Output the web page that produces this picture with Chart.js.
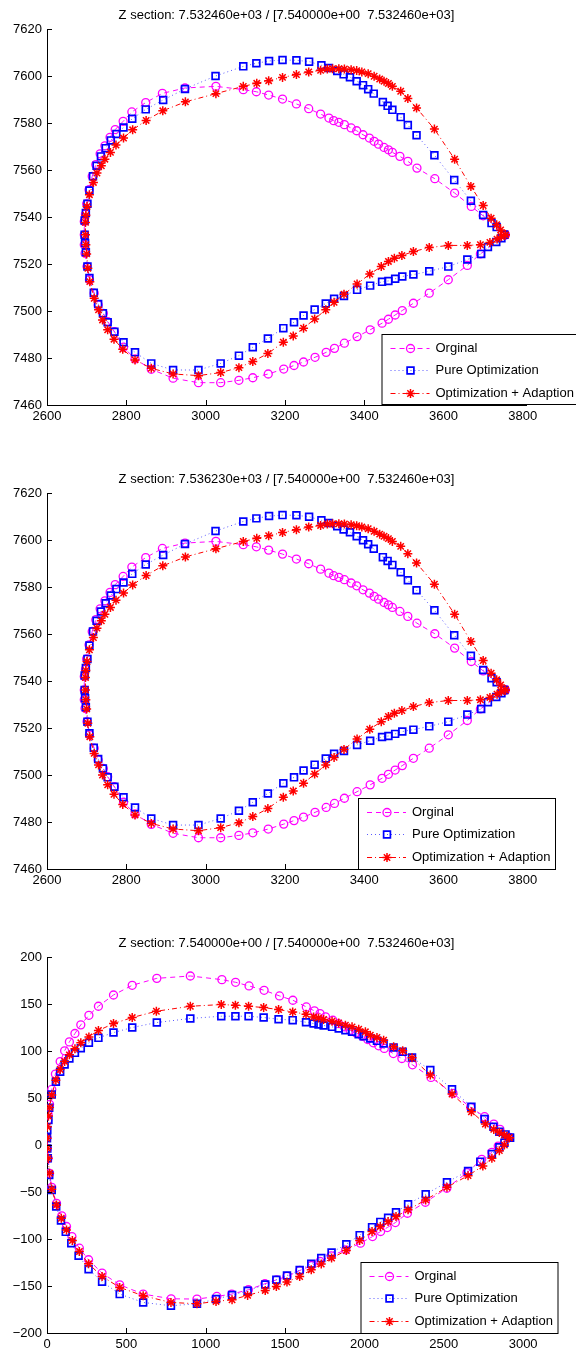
<!DOCTYPE html>
<html>
<head>
<meta charset="utf-8">
<title>Z sections</title>
<script src="https://cdn.jsdelivr.net/npm/chart.js@4.4.0/dist/chart.umd.min.js"></script>
<style>
  html, body { margin: 0; padding: 0; background: #fff; overflow: hidden; }
  #wrap { position: relative; width: 576px; height: 1354px; overflow: hidden; }
  canvas { position: absolute; left: 0; }
</style>
</head>
<body>
<div id="wrap">
  <canvas id="c1" width="576" height="464" style="top:0px"></canvas>
  <canvas id="c2" width="576" height="464" style="top:464px"></canvas>
  <canvas id="c3" width="576" height="464" style="top:928px"></canvas>
</div>
<script>
const seriesNames = ['Orginal', 'Pure Optimization', 'Optimization + Adaption'];
const titles = [
  'Z section: 7.532460e+03 / [7.540000e+00  7.532460e+03]',
  'Z section: 7.536230e+03 / [7.540000e+00  7.532460e+03]',
  'Z section: 7.540000e+00 / [7.540000e+00  7.532460e+03]'
];

// ticks and ranges
const xTicks12 = [2600, 2800, 3000, 3200, 3400, 3600, 3800];
const yTicks12 = [7460, 7480, 7500, 7520, 7540, 7560, 7580, 7600, 7620];
const xRange12 = [2600, 3808];
const yRange12 = [7460, 7620];
const xTicks3 = [0, 500, 1000, 1500, 2000, 2500, 3000];
const yTicks3 = [-200, -150, -100, -50, 0, 50, 100, 150, 200];
const xRange3 = [0, 3018];
const yRange3 = [-200, 200];

// x positions are the same in the first two sections
const origX12 = [3756,3700,3670,3628,3578,3533,3510,3490,3471,3461,3450,3436,3425,3413,3397,3381,3367,3350,3336,3323,
  3311,3290,3260,3229,3194,3159,3128,3095,3026,2948,2891,2849,2814,2792,2772,2759,2746,2734,2723,2714,
  2706,2700,2697,2694,2694,2694,2696,2701,2707,2719,2729,2742,2753,2770,2793,2822,2863,2918,2982,3038,
  3084,3119,3158,3197,3223,3247,3276,3304,3325,3350,3382,3415,3445,3461,3478,3496,3524,3564,3612,3660,
  3693,3756];
const pureX12 = [3753,3734,3721,3700,3669,3627,3577,3532,3510,3492,3471,3459,3447,3424,3410,3397,3381,3364,3348,3332,
  3311,3292,3261,3229,3194,3160,3128,3095,3025,2948,2893,2849,2815,2793,2775,2761,2748,2736,2725,2716,
  2707,2702,2698,2695,2695,2696,2698,2702,2707,2718,2729,2741,2753,2770,2793,2822,2863,2918,2982,3038,
  3084,3119,3157,3196,3223,3247,3275,3303,3324,3349,3382,3415,3445,3461,3478,3496,3524,3564,3612,3660,
  3695,3712,3733,3746,3753];
const adaptX12 = [3756,3744,3734,3720,3700,3669,3628,3577,3532,3510,3492,3471,3461,3450,3439,3425,3410,3394,3381,3367,
  3350,3336,3320,3307,3290,3260,3229,3194,3159,3129,3095,3026,2949,2892,2850,2816,2793,2774,2760,2746,
  2737,2726,2717,2707,2701,2698,2697,2697,2698,2700,2703,2708,2719,2730,2740,2753,2769,2791,2822,2863,
  2918,2982,3038,3084,3119,3157,3196,3221,3247,3275,3303,3324,3349,3382,3414,3443,3461,3476,3495,3524,
  3564,3612,3660,3693,3717,3735,3746,3756];

// section 1
const origY1 = [7532.4,7540.5,7544.5,7550.2,7556.3,7560.8,7563.7,7565.8,7567.5,7568.6,7569.6,7571.0,7572.2,7573.6,7575.0,7576.7,7577.9,7579.3,7580.3,7581.0,
  7582.1,7583.8,7586.1,7588.1,7590.2,7591.9,7593.3,7594.2,7595.6,7594.9,7592.6,7588.7,7584.7,7580.7,7577.2,7573.9,7570.3,7566.9,7562.3,7557.3,
  7551.6,7545.6,7541.2,7538.1,7532.4,7528.2,7524.6,7518.9,7513.3,7507.6,7502.6,7499.0,7495.5,7491.2,7484.6,7479.6,7475.2,7471.4,7469.5,7469.5,
  7470.5,7471.6,7473.2,7475.3,7476.8,7478.3,7480.3,7482.4,7484.1,7486.3,7489.1,7492.0,7494.8,7496.5,7498.3,7500.2,7503.3,7507.6,7513.3,7519.4,
  7524.3,7532.4];
const pureY1 = [7532.4,7535.7,7537.4,7540.9,7546.9,7555.7,7566.3,7574.8,7579.1,7582.5,7585.6,7587.3,7588.9,7592.5,7594.4,7596.1,7597.8,7599.5,7600.7,7602.1,
  7603.4,7604.6,7606.1,7606.7,7606.8,7606.4,7605.4,7604.1,7600.0,7594.5,7589.8,7585.8,7581.8,7578.1,7575.3,7572.6,7569.3,7565.8,7561.8,7557.3,
  7551.3,7545.6,7541.7,7538.5,7532.4,7528.9,7525.0,7518.9,7514.0,7507.8,7503.0,7499.0,7495.2,7491.2,7486.7,7482.4,7477.7,7474.9,7474.9,7477.7,
  7481.0,7484.6,7488.3,7492.7,7495.2,7498.1,7500.6,7503.2,7505.2,7506.4,7509.0,7510.8,7512.4,7512.8,7513.7,7514.7,7515.5,7516.9,7518.9,7521.9,
  7524.3,7527.2,7529.4,7531.0,7532.4];
const adaptY1 = [7532.4,7534.5,7536.7,7539.5,7544.9,7553.0,7564.6,7577.4,7586.4,7590.4,7593.5,7595.6,7596.8,7597.8,7598.7,7599.9,7601.0,7601.7,7602.3,7602.7,
  7603.0,7603.1,7603.1,7603.0,7602.4,7601.7,7600.6,7599.4,7598.0,7596.9,7595.6,7592.5,7589.0,7585.2,7581.1,7577.1,7573.6,7570.6,7567.5,7564.6,
  7561.8,7558.7,7554.7,7549.5,7544.5,7540.7,7537.7,7532.4,7528.2,7524.3,7518.2,7512.5,7505.4,7500.5,7496.2,7492.0,7488.0,7483.7,7479.2,7475.6,
  7473.2,7472.5,7473.8,7475.9,7478.5,7481.9,7486.7,7489.4,7492.7,7496.6,7500.5,7503.7,7507.1,7511.5,7515.7,7518.9,7521.1,7522.5,7523.6,7525.3,
  7527.0,7527.9,7527.9,7528.2,7529.2,7530.6,7531.7,7532.4];

// section 2
const origY2 = [7536.2,7544.3,7548.3,7554.0,7560.1,7564.6,7567.5,7569.6,7571.3,7572.4,7573.4,7574.8,7576.0,7577.4,7578.8,7580.5,7581.7,7583.1,7584.1,7584.8,
  7585.9,7587.6,7589.9,7591.9,7594.0,7595.7,7597.1,7598.0,7599.4,7598.7,7596.4,7592.5,7588.5,7584.5,7581.0,7577.7,7574.1,7570.7,7566.1,7561.1,
  7555.4,7549.4,7545.0,7541.9,7536.2,7532.0,7528.4,7522.7,7517.1,7511.4,7506.4,7502.8,7499.3,7495.0,7488.4,7483.4,7479.0,7475.2,7473.3,7473.3,
  7474.3,7475.4,7477.0,7479.1,7480.6,7482.1,7484.1,7486.2,7487.9,7490.1,7492.9,7495.8,7498.6,7500.3,7502.1,7504.0,7507.1,7511.4,7517.1,7523.2,
  7528.1,7536.2];
const pureY2 = [7536.2,7539.5,7541.2,7544.7,7550.7,7559.5,7570.1,7578.6,7582.9,7586.3,7589.4,7591.1,7592.7,7596.3,7598.2,7599.9,7601.6,7603.3,7604.5,7605.9,
  7607.2,7608.4,7609.9,7610.5,7610.6,7610.2,7609.2,7607.9,7603.8,7598.3,7593.6,7589.6,7585.6,7581.9,7579.1,7576.4,7573.1,7569.6,7565.6,7561.1,
  7555.1,7549.4,7545.5,7542.3,7536.2,7532.7,7528.8,7522.7,7517.8,7511.6,7506.8,7502.8,7499.0,7495.0,7490.5,7486.2,7481.5,7478.7,7478.7,7481.5,
  7484.8,7488.4,7492.1,7496.5,7499.0,7501.9,7504.4,7507.0,7509.0,7510.2,7512.8,7514.6,7516.2,7516.6,7517.5,7518.5,7519.3,7520.7,7522.7,7525.7,
  7528.1,7531.0,7533.2,7534.8,7536.2];
const adaptY2 = [7536.2,7538.3,7540.5,7543.3,7548.7,7556.8,7568.4,7581.2,7590.2,7594.2,7597.3,7599.4,7600.6,7601.6,7602.5,7603.7,7604.8,7605.5,7606.1,7606.5,
  7606.8,7606.9,7606.9,7606.8,7606.2,7605.5,7604.4,7603.2,7601.8,7600.7,7599.4,7596.3,7592.8,7589.0,7584.9,7580.9,7577.4,7574.4,7571.3,7568.4,
  7565.6,7562.5,7558.5,7553.3,7548.3,7544.5,7541.5,7536.2,7532.0,7528.1,7522.0,7516.3,7509.2,7504.3,7500.0,7495.8,7491.8,7487.5,7483.0,7479.4,
  7477.0,7476.3,7477.6,7479.7,7482.3,7485.7,7490.5,7493.2,7496.5,7500.4,7504.3,7507.5,7510.9,7515.3,7519.5,7522.7,7524.9,7526.3,7527.4,7529.1,
  7530.8,7531.7,7531.7,7532.0,7533.0,7534.4,7535.5,7536.2];

// section 3
const origX3 = [2912,2854,2815,2757,2669,2558,2419,2303,2236,2182,2125,2090,2056,2021,1986,1947,1910,1875,1836,1801,
  1755,1720,1685,1634,1549,1465,1368,1273,1188,1102,903,692,537,419,324,264,213,176,141,111,
  83,53,30,16,7,5,0,2,7,16,30,60,93,123,157,204,262,347,458,606,
  782,945,1070,1164,1269,1373,1447,1512,1593,1667,1720,1790,1882,1975,2051,2102,2144,2195,2271,2384,
  2519,2646,2739,2803,2843,2912];
const origY3 = [8.1,16.6,22.3,30.1,40.0,54.9,71.9,85.3,92.0,97.3,102.7,105.5,108.7,112.2,115.7,119.3,122.1,125.7,129.2,132.7,
  136.3,139.8,142.7,146.9,154.0,158.6,164.6,169.2,173.1,175.9,179.8,177.3,169.9,159.6,147.6,138.0,127.8,118.6,109.7,100.2,
  88.8,75.4,59.1,43.2,32.6,26.5,7.8,-3.6,-14.2,-30.1,-45.0,-62.0,-75.4,-86.7,-97.4,-109.8,-122.1,-136.3,-148.7,-158.6,
  -163.6,-163.9,-161.1,-158.6,-154.0,-147.6,-143.4,-139.8,-133.5,-128.2,-123.9,-117.9,-111.5,-104.4,-97.4,-92.0,-87.8,-82.5,-72.6,-60.9,
  -46.0,-29.4,-15.2,-7.8,-1.1,8.1];
const pureX3 = [2917,2889,2850,2813,2757,2674,2552,2415,2300,2241,2184,2121,2079,2037,1995,1964,1922,1880,1838,1796,
  1743,1711,1680,1632,1548,1459,1365,1270,1187,1098,903,692,537,419,324,264,213,176,141,111,
  83,56,30,14,9,2,0,2,5,14,30,58,88,118,153,199,262,347,458,606,
  781,945,1065,1166,1264,1375,1445,1512,1592,1665,1728,1793,1886,1970,2048,2100,2149,2199,2275,2386,
  2520,2653,2730,2803,2850,2882,2917];
const pureY3 = [7.8,11.3,14.2,19.5,27.6,40.7,59.2,79.7,93.1,99.1,103.8,108.0,110.8,113.3,115.8,117.9,120.4,122.1,124.0,125.7,
  127.1,128.2,129.2,130.6,132.8,133.8,135.6,137.0,137.0,137.0,134.6,130.3,125.0,119.6,114.0,108.7,103.0,98.0,92.0,85.7,
  77.9,67.3,53.8,39.6,26.5,15.9,7.1,-3.6,-14.2,-31.9,-47.8,-65.5,-80.4,-92.4,-104.4,-117.9,-132.1,-145.5,-158.6,-167.5,
  -171.0,-168.9,-163.9,-159.6,-155.1,-148.4,-143.4,-138.8,-133.1,-126.4,-120.3,-114.4,-105.5,-95.9,-87.4,-81.8,-77.5,-71.5,-63.0,-52.4,
  -39.6,-27.6,-17.7,-9.6,-2.5,2.5,7.8];
const adaptX3 = [2912,2882,2850,2815,2762,2674,2552,2415,2300,2241,2184,2121,2079,2037,2006,1964,1922,1880,1838,1796,
  1743,1711,1680,1632,1548,1459,1365,1270,1187,1098,903,689,537,419,324,264,213,176,141,111,
  83,56,30,16,9,2,0,2,7,16,30,60,90,123,160,204,262,347,458,606,
  781,945,1065,1166,1264,1375,1445,1512,1592,1665,1728,1793,1886,1970,2048,2100,2149,2199,2275,2386,
  2520,2653,2746,2803,2850,2882,2912];
const adaptY3 = [7.8,10.6,13.4,16.6,22.3,35.4,54.2,74.4,92.7,100.2,104.4,111.5,114.4,116.8,120.4,123.2,125.7,127.5,129.9,131.7,
  133.5,135.2,136.3,139.1,141.6,144.1,146.2,147.6,148.7,149.4,147.6,142.3,135.6,129.2,121.8,115.0,108.7,102.3,95.9,88.8,
  80.3,69.0,53.1,40.0,30.8,19.5,7.1,-3.6,-14.2,-30.1,-47.1,-63.7,-77.9,-90.3,-101.6,-113.3,-126.4,-139.8,-151.5,-160.4,
  -167.5,-168.9,-166.4,-164.6,-160.0,-154.7,-150.5,-145.8,-139.9,-132.8,-126.7,-120.3,-112.3,-101.6,-92.1,-86.8,-81.5,-76.1,-69.0,-58.4,
  -44.9,-32.6,-22.3,-14.2,-6.0,0.0,7.8];

const FONT = '"Liberation Sans", Arial, Helvetica, sans-serif';
Chart.defaults.font.family = FONT;
Chart.defaults.font.size = 13;
Chart.defaults.color = '#000';

function pairs(xs, ys) {
  return xs.map((x, i) => ({ x: x, y: ys[i] }));
}

function fmt(v) {
  return String(v).replace('-', '\u2212');
}

function drawMarker(ctx, style, r, x, y) {
  if (Chart.helpers && Chart.helpers.drawPoint) {
    Chart.helpers.drawPoint(ctx, { pointStyle: style, radius: r, rotation: 0, borderWidth: 1 }, x, y);
    return;
  }
  ctx.beginPath();
  ctx.arc(x, y, r, 0, Math.PI * 2);
  ctx.stroke();
}

// MATLAB-like look: inward ticks, title, boxed legend
const matlabLook = {
  id: 'matlabLook',
  afterDraw(chart, args, opts) {
    const ctx = chart.ctx;
    const area = chart.chartArea;
    const sx = chart.scales.x;
    const sy = chart.scales.y;
    ctx.save();
    ctx.strokeStyle = '#000';
    ctx.lineWidth = 1;
    ctx.beginPath();
    sx.ticks.forEach(t => {
      const px = Math.round(sx.getPixelForValue(t.value)) + 0.5;
      ctx.moveTo(px, area.bottom);
      ctx.lineTo(px, area.bottom - 5);
    });
    sy.ticks.forEach(t => {
      const py = Math.round(sy.getPixelForValue(t.value)) + 0.5;
      ctx.moveTo(area.left, py);
      ctx.lineTo(area.left + 5, py);
    });
    ctx.stroke();

    ctx.fillStyle = '#000';
    ctx.font = '13px ' + FONT;
    ctx.textAlign = 'center';
    ctx.textBaseline = 'middle';
    ctx.fillText(opts.title, (area.left + area.right) / 2, 15);

    const L = opts.box;
    ctx.fillStyle = '#fff';
    ctx.fillRect(L.x, L.y, L.w, L.h);
    ctx.strokeStyle = '#000';
    ctx.lineWidth = 1;
    ctx.strokeRect(L.x + 0.5, L.y + 0.5, L.w, L.h);

    ctx.textAlign = 'left';
    chart.data.datasets.forEach((ds, i) => {
      const cy = Math.round(L.y + 13.5 + i * 22.5) + 0.5;
      ctx.strokeStyle = ds.borderColor;
      ctx.lineWidth = ds.borderWidth;
      ctx.setLineDash(ds.borderDash);
      ctx.beginPath();
      ctx.moveTo(L.x + 9, cy);
      ctx.lineTo(L.x + 48, cy);
      ctx.stroke();
      ctx.setLineDash([]);
      ctx.strokeStyle = ds.pointBorderColor;
      ctx.fillStyle = 'rgba(0,0,0,0)';
      ctx.lineWidth = ds.pointBorderWidth;
      drawMarker(ctx, ds.pointStyle, ds.pointRadius, L.x + 29, cy);
      ctx.fillStyle = '#000';
      ctx.fillText(ds.label, L.x + 54, cy);
    });
    ctx.restore();
  }
};

function makeChart(id, title, box, xRange, yRange, xTicks, yTicks, orig, pure, adapt) {
  const ctx = document.getElementById(id).getContext('2d');
  return new Chart(ctx, {
    type: 'scatter',
    data: {
      datasets: [
        {
          label: seriesNames[0],
          data: orig,
          showLine: true,
          borderColor: '#ff00ff',
          borderWidth: 1,
          borderDash: [5, 4],
          pointStyle: 'circle',
          pointRadius: 4,
          pointBorderColor: '#ff00ff',
          pointBackgroundColor: 'rgba(0,0,0,0)',
          pointBorderWidth: 1.3,
          order: 3
        },
        {
          label: seriesNames[1],
          data: pure,
          showLine: true,
          borderColor: '#5a5aff',
          borderWidth: 1,
          borderDash: [1, 3],
          pointStyle: 'rect',
          pointRadius: 4.8,
          pointBorderColor: '#0000ff',
          pointBackgroundColor: 'rgba(0,0,0,0)',
          pointBorderWidth: 1.7,
          order: 2
        },
        {
          label: seriesNames[2],
          data: adapt,
          showLine: true,
          borderColor: '#ff0000',
          borderWidth: 1,
          borderDash: [5, 3, 1, 3],
          pointStyle: 'star',
          pointRadius: 4.5,
          pointBorderColor: '#ff0000',
          pointBackgroundColor: 'rgba(0,0,0,0)',
          pointBorderWidth: 1.5,
          order: 1
        }
      ]
    },
    options: {
      responsive: false,
      animation: false,
      devicePixelRatio: 1,
      layout: { padding: { top: 29, right: 50, bottom: 0, left: 0 } },
      plugins: {
        legend: { display: false },
        tooltip: { enabled: false },
        matlabLook: { title: title, box: box }
      },
      scales: {
        x: {
          type: 'linear',
          min: xRange[0],
          max: xRange[1],
          afterBuildTicks: s => { s.ticks = xTicks.map(v => ({ value: v })); },
          afterFit: s => { s.height = 59; },
          grid: { display: false, drawTicks: false },
          border: { display: true, color: '#000', width: 1 },
          ticks: { padding: 4, maxRotation: 0, autoSkip: false, callback: v => fmt(v) }
        },
        y: {
          type: 'linear',
          min: yRange[0],
          max: yRange[1],
          afterBuildTicks: s => { s.ticks = yTicks.map(v => ({ value: v })); },
          afterFit: s => { s.width = 47; },
          grid: { display: false, drawTicks: false },
          border: { display: true, color: '#000', width: 1 },
          ticks: { padding: 5, autoSkip: false, callback: v => fmt(v) }
        }
      }
    },
    plugins: [matlabLook]
  });
}

document.addEventListener('DOMContentLoaded', function() {
  makeChart('c1', titles[0], { x: 381.5, y: 334, w: 197, h: 70 }, xRange12, yRange12, xTicks12, yTicks12,
    pairs(origX12, origY1), pairs(pureX12, pureY1), pairs(adaptX12, adaptY1));
  makeChart('c2', titles[1], { x: 358, y: 334, w: 197, h: 71 }, xRange12, yRange12, xTicks12, yTicks12,
    pairs(origX12, origY2), pairs(pureX12, pureY2), pairs(adaptX12, adaptY2));
  makeChart('c3', titles[2], { x: 360.5, y: 334, w: 197, h: 71 }, xRange3, yRange3, xTicks3, yTicks3,
    pairs(origX3, origY3), pairs(pureX3, pureY3), pairs(adaptX3, adaptY3));
});
</script>
</body>
</html>
